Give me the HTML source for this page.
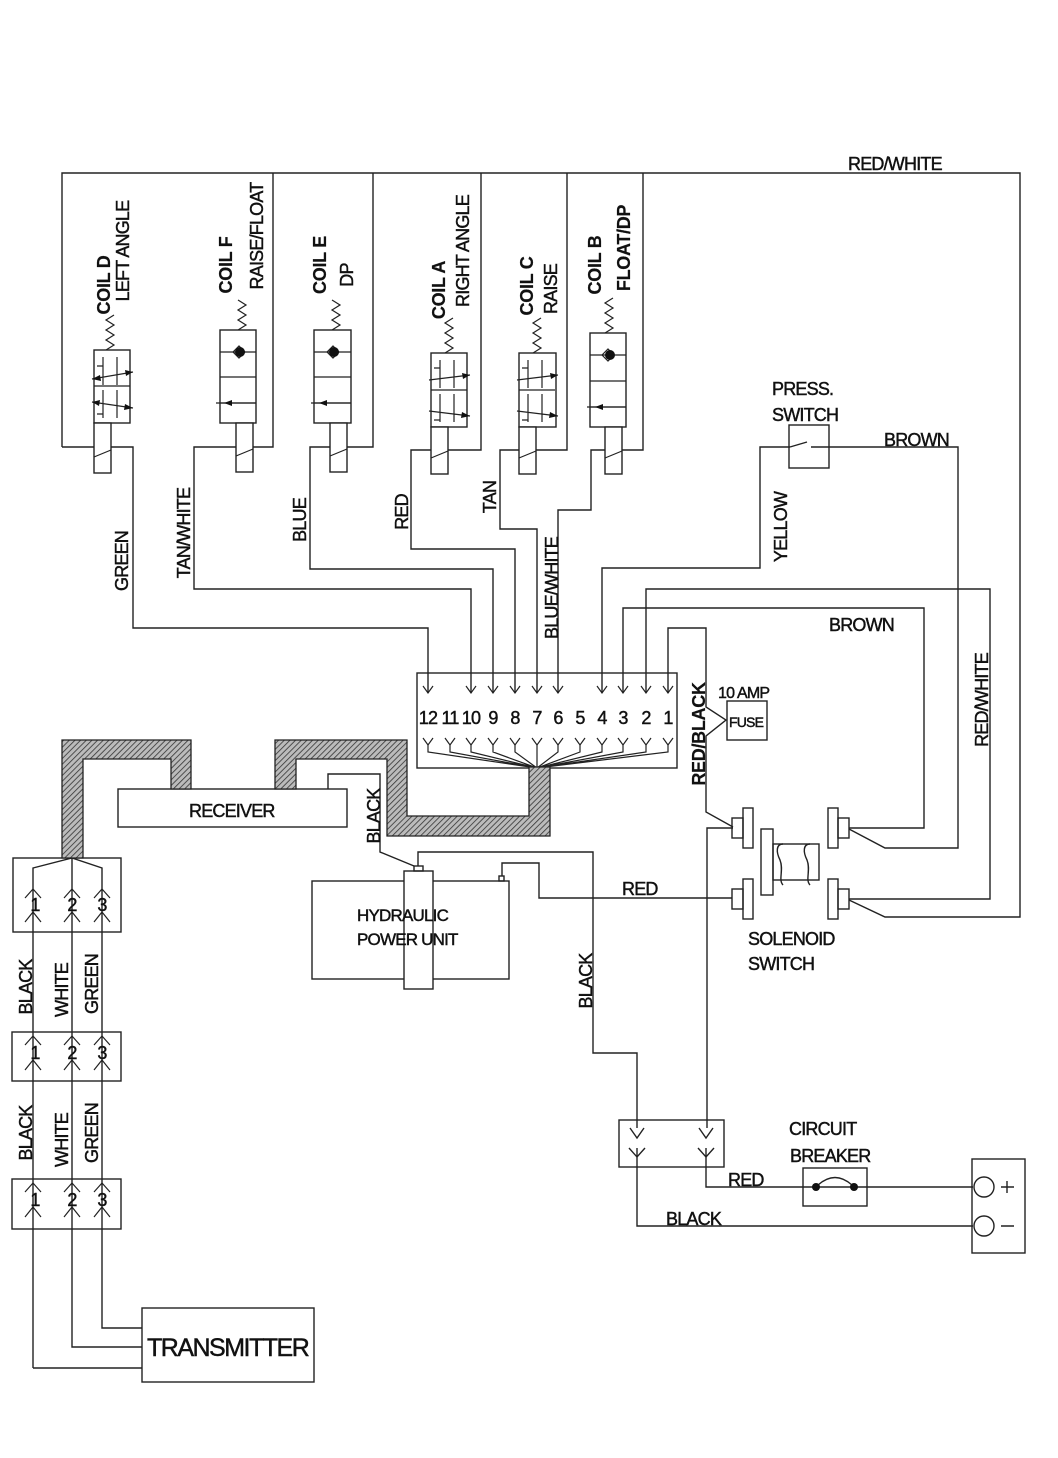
<!DOCTYPE html>
<html><head><meta charset="utf-8"><style>
html,body{margin:0;padding:0;background:#fff}
svg{display:block}
text{font-family:"Liberation Sans",sans-serif;fill:#111;stroke:#111;stroke-width:0.45;font-size:18px;letter-spacing:-0.8px}
.b{font-weight:bold;letter-spacing:-0.3px;stroke-width:0.2}
</style></head><body>
<svg width="1058" height="1458" viewBox="0 0 1058 1458" xmlns="http://www.w3.org/2000/svg">
<defs>
<pattern id="h" width="4" height="4" patternUnits="userSpaceOnUse" patternTransform="rotate(45)">
<rect width="4" height="4" fill="#bbb"/><line x1="0" y1="0" x2="0" y2="4" stroke="#333" stroke-width="1.6"/>
</pattern>
</defs>
<g fill="none" stroke="#222" stroke-width="1.4">
<polyline points="62,447 62,173 1020,173 1020,917 885,917 849,900"/>
<polyline points="428,693 428,628 133,628 133,447 62,447"/>
<polyline points="471,693 471,589 194,589 194,447 273,447 273,173"/>
<polyline points="493,693 493,569 310,569 310,447 373,447 373,173"/>
<polyline points="515,693 515,549 411,549 411,450 481,450 481,173"/>
<polyline points="537,693 537,529 500,529 500,450 567,450 567,173"/>
<polyline points="558,693 558,510 591,510 591,450 643,450 643,173"/>
<polyline points="602,693 602,568 760,568 760,447 790,447"/>
<polyline points="811,447 958,447 958,848 885,848 849,829"/>
<line x1="790" y1="447" x2="807" y2="442"/>
<rect x="789" y="425" width="40" height="43"/>
<polyline points="623,693 623,608 924,608 924,828 849,828"/>
<polyline points="646,693 646,589 990,589 990,899 849,899"/>
<polyline points="668,693 668,628 706,628 706,707 726,720 706,736 706,812 733,827"/>
<polyline points="733,828 707,828 707,1128"/>
<rect x="417" y="673" width="260" height="95"/>
<rect x="727" y="701" width="40" height="39"/>
<rect x="312" y="881" width="197" height="98"/>
<rect x="404" y="871" width="29" height="118" fill="#fff"/>
<rect x="414" y="866" width="9" height="5"/>
<rect x="499" y="876" width="5" height="5"/>
<polyline points="328,789 328,774 380,774 380,852 414,866"/>
<polyline points="418,866 418,852 593,852 593,1053 637,1053 637,1128"/>
<polyline points="502,876 502,863 539,863 539,898 732,898"/>
<rect x="118" y="789" width="229" height="38"/>
<rect x="743" y="808" width="10" height="40"/><rect x="732" y="818" width="11" height="20"/>
<rect x="743" y="879" width="10" height="40"/><rect x="732" y="889" width="11" height="20"/>
<rect x="828" y="808" width="10" height="40"/><rect x="838" y="818" width="11" height="20"/>
<rect x="828" y="879" width="10" height="40"/><rect x="838" y="889" width="11" height="20"/>
<rect x="761" y="829" width="12" height="66"/>
<rect x="773" y="844" width="46" height="36"/>
<path d="M783,844 C776,844 776,852 780,860 C784,870 778,880 783,885 M810,844 C803,844 803,852 807,860 C811,870 805,880 810,885"/>
<rect x="619" y="1120" width="105" height="47"/>
<polyline points="637,1148 637,1226 973,1226"/>
<polyline points="706,1148 706,1187 973,1187"/>
<rect x="803" y="1168" width="64" height="38"/>
<path d="M818,1185 Q835,1170 852,1185"/>
<rect x="972" y="1159" width="53" height="94"/>
<circle cx="984" cy="1187" r="10" fill="#fff"/><circle cx="984" cy="1226" r="10" fill="#fff"/>
<path d="M1001,1187 h13 M1007,1181 v12 M1001,1226 h13"/>
<path d="M630,1128 l7,10 l7,-10 M699,1128 l7,10 l7,-10 M629,1148 l8,9 l8,-9 M698,1148 l8,9 l8,-9"/>
<rect x="13" y="858" width="108" height="74"/>
<rect x="12" y="1032" width="109" height="49"/>
<rect x="12" y="1179" width="109" height="50"/>
<polyline points="33,1368 33,868 72,858 102,868 102,1328 142,1328"/>
<polyline points="72,858 72,1347 142,1347"/>
<line x1="33" y1="1368" x2="142" y2="1368"/>
<rect x="142" y="1308" width="172" height="74"/>
</g>
<g fill="none" stroke="#222" stroke-width="1.2">
<path d="M25,898 l8,-9 l8,9 M64,898 l8,-9 l8,9 M94,898 l8,-9 l8,9 M25,922 l8,-10 l8,10 M64,922 l8,-10 l8,10 M94,922 l8,-10 l8,10"/>
<path d="M25,1045 l8,-9 l8,9 M64,1045 l8,-9 l8,9 M94,1045 l8,-9 l8,9 M25,1070 l8,-10 l8,10 M64,1070 l8,-10 l8,10 M94,1070 l8,-10 l8,10"/>
<path d="M25,1192 l8,-9 l8,9 M64,1192 l8,-9 l8,9 M94,1192 l8,-9 l8,9 M25,1217 l8,-10 l8,10 M64,1217 l8,-10 l8,10 M94,1217 l8,-10 l8,10"/>
<path d="M423,686 l5,7 l5,-7 M466,686 l5,7 l5,-7 M488,686 l5,7 l5,-7 M510,686 l5,7 l5,-7 M532,686 l5,7 l5,-7 M553,686 l5,7 l5,-7 M597,686 l5,7 l5,-7 M618,686 l5,7 l5,-7 M641,686 l5,7 l5,-7 M663,686 l5,7 l5,-7"/>
<path d="M423,738 l5,7 l5,-7 M445,738 l5,7 l5,-7 M466,738 l5,7 l5,-7 M488,738 l5,7 l5,-7 M510,738 l5,7 l5,-7 M532,738 l5,7 l5,-7 M553,738 l5,7 l5,-7 M575,738 l5,7 l5,-7 M597,738 l5,7 l5,-7 M618,738 l5,7 l5,-7 M641,738 l5,7 l5,-7 M663,738 l5,7 l5,-7"/>
<path d="M428,745 v7 L537,768 M450,745 v7 L537,768 M471,745 v7 L537,768 M493,745 v7 L537,768 M515,745 v7 L537,768 M537,745 v23 M558,745 v7 L537,768 M580,745 v7 L537,768 M602,745 v7 L537,768 M623,745 v7 L537,768 M646,745 v7 L537,768 M668,745 v7 L537,768"/>
</g>
<g stroke="#222" stroke-width="1.3" fill="url(#h)">
<polygon points="62,858 62,740 191,740 191,789 171,789 171,759 83,759 83,858"/>
<polygon points="275,789 275,740 407,740 407,816 529,816 529,767 550,767 550,836 387,836 387,759 296,759 296,789"/>
</g>
<circle cx="816" cy="1187" r="4" fill="#111"/><circle cx="854" cy="1187" r="4" fill="#111"/>
<g fill="#fff" stroke="#222" stroke-width="1.4">
<rect x="94" y="350" width="36" height="73"/><rect x="94" y="423" width="17" height="50"/>
<rect x="220" y="330" width="36" height="93"/><rect x="236" y="423" width="17" height="49"/>
<rect x="314" y="330" width="37" height="93"/><rect x="330" y="423" width="17" height="49"/>
<rect x="431" y="353" width="36" height="74"/><rect x="431" y="427" width="17" height="47"/>
<rect x="519" y="353" width="37" height="74"/><rect x="519" y="427" width="17" height="47"/>
<rect x="590" y="333" width="36" height="94"/><rect x="605" y="427" width="17" height="47"/>
</g>
<g fill="none" stroke="#222" stroke-width="1.2">
<path d="M94,386 h36 M220,352 h36 M220,377 h36 M220,403 h36 M314,352 h37 M314,377 h37 M314,403 h37 M431,390 h36 M519,390 h36 M590,355 h36 M590,381 h36 M590,407 h36"/>
<path d="M94,457 l17,-7 M236,456 l17,-7 M330,456 l17,-7 M431,458 l17,-7 M519,458 l17,-7 M605,458 l17,-7"/>
<path d="M106,350 l8,-5 l-8,-5 l8,-5 l-8,-5 l8,-5 l-8,-5 l8,-5"/>
<path d="M238,330 l8,-5 l-8,-5 l8,-5 l-8,-5 l8,-5 l-8,-5"/>
<path d="M332,330 l8,-5 l-8,-5 l8,-5 l-8,-5 l8,-5 l-8,-5"/>
<path d="M445,353 l8,-5 l-8,-5 l8,-5 l-8,-5 l8,-5 l-8,-5 l8,-5"/>
<path d="M533,353 l8,-5 l-8,-5 l8,-5 l-8,-5 l8,-5 l-8,-5 l8,-5"/>
<path d="M605,333 l8,-5 l-8,-5 l8,-5 l-8,-5 l8,-5 l-8,-5 l8,-5"/>
<path d="M92,379 L133,372 M92,402 L133,408 M103,357 v28 M117,357 v28 M103,390 v28 M117,390 v28 M97,366 h6 M97,414 h6"/>
<path d="M429,380 L470,375 M429,411 L470,416 M440,360 v28 M454,360 v28 M440,394 v28 M454,394 v28 M434,368 h6 M434,420 h6"/>
<path d="M517,380 L558,375 M517,411 L558,416 M528,360 v28 M542,360 v28 M528,394 v28 M542,394 v28 M522,368 h6 M522,420 h6"/>
<path d="M216,403 h40 M311,403 h40 M587,407 h39"/>
<path d="M233,352 l6,-6 l6,6 l-6,6 z M327,352 l6,-6 l6,6 l-6,6 z M602,355 l6,-6 l6,6 l-6,6 z"/>
</g>
<g fill="#111">
<path d="M224,403 l8,-3 v6 z M319,403 l8,-3 v6 z M595,407 l8,-3 v6 z"/>
<circle cx="240" cy="352" r="5"/><circle cx="334" cy="352" r="5"/><circle cx="610" cy="355" r="5"/>
<path d="M133,372 l-8,-2 l1,6 z M92,379 l8,-4 l1,6 z M133,408 l-8,-4 l-1,6 z M92,402 l8,-2 l-1,6 z"/>
<path d="M470,375 l-8,-2 l1,6 z M470,416 l-8,-4 l-1,6 z M558,375 l-8,-2 l1,6 z M558,416 l-8,-4 l-1,6 z"/>
</g>
<text class="b" transform="translate(110,285) rotate(-90)" text-anchor="middle">COIL D</text>
<text transform="translate(129,251) rotate(-90)" text-anchor="middle">LEFT ANGLE</text>
<text class="b" transform="translate(232,265) rotate(-90)" text-anchor="middle">COIL F</text>
<text transform="translate(263,236) rotate(-90)" text-anchor="middle">RAISE/FLOAT</text>
<text class="b" transform="translate(326,265) rotate(-90)" text-anchor="middle">COIL E</text>
<text transform="translate(353,275) rotate(-90)" text-anchor="middle">DP</text>
<text class="b" transform="translate(445,290) rotate(-90)" text-anchor="middle">COIL A</text>
<text transform="translate(469,251) rotate(-90)" text-anchor="middle">RIGHT ANGLE</text>
<text class="b" transform="translate(533,286) rotate(-90)" text-anchor="middle">COIL C</text>
<text transform="translate(557,289) rotate(-90)" text-anchor="middle">RAISE</text>
<text class="b" transform="translate(601,265) rotate(-90)" text-anchor="middle">COIL B</text>
<text class="b" transform="translate(630,248) rotate(-90)" text-anchor="middle">FLOAT/DP</text>
<text transform="translate(128,561) rotate(-90)" text-anchor="middle">GREEN</text>
<text transform="translate(190,533) rotate(-90)" text-anchor="middle">TAN/WHITE</text>
<text transform="translate(306,520) rotate(-90)" text-anchor="middle">BLUE</text>
<text transform="translate(408,512) rotate(-90)" text-anchor="middle">RED</text>
<text transform="translate(496,497) rotate(-90)" text-anchor="middle">TAN</text>
<text transform="translate(558,588) rotate(-90)" text-anchor="middle">BLUE/WHITE</text>
<text transform="translate(787,527) rotate(-90)" text-anchor="middle">YELLOW</text>
<text class="b" transform="translate(705,734) rotate(-90)" text-anchor="middle">RED/BLACK</text>
<text transform="translate(988,700) rotate(-90)" text-anchor="middle">RED/WHITE</text>
<text transform="translate(380,816) rotate(-90)" text-anchor="middle">BLACK</text>
<text transform="translate(592,981) rotate(-90)" text-anchor="middle">BLACK</text>
<text transform="translate(32,987) rotate(-90)" text-anchor="middle">BLACK</text>
<text transform="translate(68,990) rotate(-90)" text-anchor="middle">WHITE</text>
<text transform="translate(98,984) rotate(-90)" text-anchor="middle">GREEN</text>
<text transform="translate(32,1133) rotate(-90)" text-anchor="middle">BLACK</text>
<text transform="translate(68,1140) rotate(-90)" text-anchor="middle">WHITE</text>
<text transform="translate(98,1133) rotate(-90)" text-anchor="middle">GREEN</text>
<text x="848" y="170">RED/WHITE</text>
<text x="772" y="395">PRESS.</text>
<text x="772" y="421">SWITCH</text>
<text x="884" y="446">BROWN</text>
<text x="829" y="631">BROWN</text>
<text x="718" y="698" style="font-size:16px">10 AMP</text>
<text x="729" y="727" style="font-size:14px">FUSE</text>
<text x="189" y="817">RECEIVER</text>
<text x="357" y="921" style="font-size:17px">HYDRAULIC</text>
<text x="357" y="945" style="font-size:17px">POWER UNIT</text>
<text x="622" y="895">RED</text>
<text x="748" y="945">SOLENOID</text>
<text x="748" y="970">SWITCH</text>
<text x="789" y="1135">CIRCUIT</text>
<text x="790" y="1162">BREAKER</text>
<text x="728" y="1186">RED</text>
<text x="666" y="1225">BLACK</text>
<text x="147" y="1356" style="font-size:25px;letter-spacing:-1.5px">TRANSMITTER</text>
<g style="font-size:17px" text-anchor="middle">
<text x="428" y="724">12</text><text x="450" y="724">11</text><text x="471" y="724">10</text><text x="493" y="724">9</text><text x="515" y="724">8</text><text x="537" y="724">7</text><text x="558" y="724">6</text><text x="580" y="724">5</text><text x="602" y="724">4</text><text x="623" y="724">3</text><text x="646" y="724">2</text><text x="668" y="724">1</text>
<text x="35" y="911">1</text><text x="72" y="911">2</text><text x="102" y="911">3</text>
<text x="35" y="1059">1</text><text x="72" y="1059">2</text><text x="102" y="1059">3</text>
<text x="35" y="1206">1</text><text x="72" y="1206">2</text><text x="102" y="1206">3</text>
</g>
</svg>
</body></html>
